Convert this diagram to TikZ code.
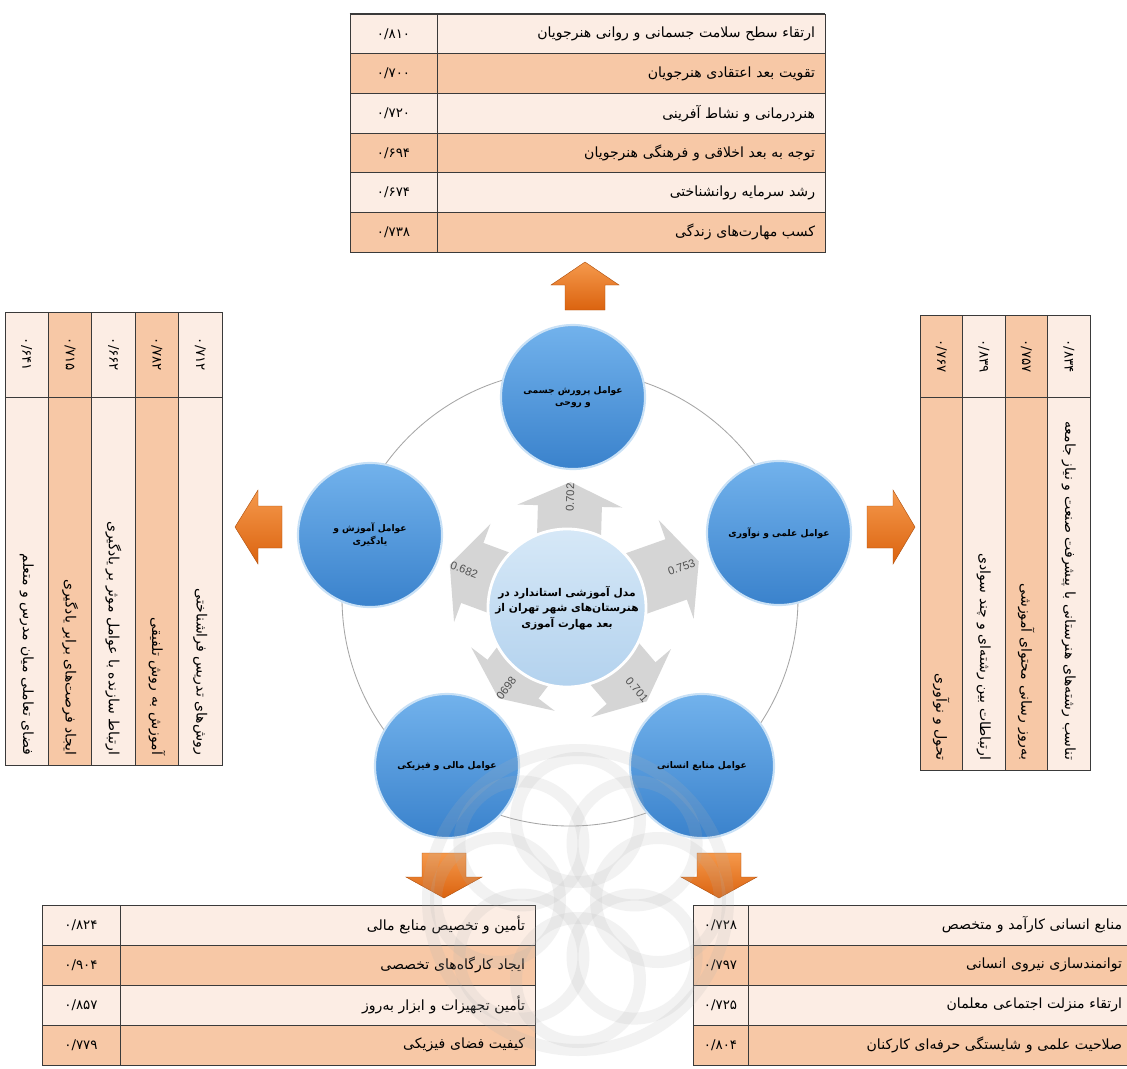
\documentclass[tikz,border=0pt]{standalone}
\usepackage{fontspec}
\setmainfont{Liberation Sans}
\newfontfamily\arabicfont[Script=Arabic]{DejaVu Sans}
\TeXXeTstate=1
\usetikzlibrary{arrows.meta,calc}
\definecolor{RowLight}{HTML}{FCEDE4}
\definecolor{RowPeach}{HTML}{F7C8A6}
\definecolor{TabLine}{HTML}{3A3A3A}
\definecolor{BallTop}{HTML}{72B2EC}
\definecolor{BallBot}{HTML}{3A82CC}
\definecolor{BallRim}{HTML}{C9E1F6}
\definecolor{CoreTop}{HTML}{D6E8F7}
\definecolor{CoreBot}{HTML}{B3D2EE}
\definecolor{RingGray}{HTML}{A6A6A6}
\definecolor{ArrowGray}{HTML}{D5D5D5}
\definecolor{OrangeL}{HTML}{F5994C}
\definecolor{OrangeD}{HTML}{DB630F}
\definecolor{LabelGray}{HTML}{505050}
\newcommand{\fa}[1]{{\arabicfont\beginR #1\endR}}
\tikzset{
  numcell/.style 2 args={draw=TabLine, line width=0.6pt, minimum width=#1, minimum height=#2,
    inner sep=0pt, font=\arabicfont\fontsize{9.5}{11}\selectfont},
  txtcell/.style 2 args={draw=TabLine, line width=0.6pt, text width=#1, minimum height=#2,
    align=right, inner xsep=0.25cm, inner ysep=0pt, font=\arabicfont\fontsize{10}{12}\selectfont},
  ball/.style={circle, minimum size=3.6cm, inner sep=0pt, align=center, top color=BallTop,
    bottom color=BallBot, draw=BallRim, line width=1.5pt,
    font=\arabicfont\bfseries\fontsize{6.5}{9}\selectfont},
  core/.style={circle, minimum size=3.95cm, inner sep=0pt, align=center, top color=CoreTop,
    bottom color=CoreBot, draw=white, line width=2pt,
    font=\arabicfont\bfseries\fontsize{7.6}{11}\selectfont},
  grayarrow/.style={draw=ArrowGray, line width=1.6cm, -{Triangle[width=2.6cm,length=0.6cm]},
    shorten >=0.3cm},
  weightlbl/.style={text=LabelGray, font=\fontsize{8}{9}\selectfont, inner sep=1pt},
  orangearrow/.style={top color=OrangeL, bottom color=OrangeD, draw=OrangeD!80!black, line width=0.3pt},
  watermark/.style={draw=gray!60, line width=0.3cm, opacity=0.16},
}

\begin{document}
\begin{tikzpicture}[x=0.025cm, y=-0.025cm]
  \fill[white] (0,0) rectangle (1127,1068);
  \useasboundingbox (0,0) rectangle (1127,1068);

  % Ring through the five factors
  \draw[RingGray, line width=0.6pt] (570,598) circle (228);

  % Factor circles
  \node[ball] (phys) at (573,397) {\fa{عوامل پرورش جسمی}\\\fa{و روحی}};
  \node[ball] (sci)  at (779,533) {\fa{عوامل علمی و نوآوری}};
  \node[ball] (hum)  at (702,766) {\fa{عوامل منابع انسانی}};
  \node[ball] (fin)  at (447,766) {\fa{عوامل مالی و فیزیکی}};
  \node[ball] (edu)  at (370,535) {\fa{عوامل آموزش و}\\\fa{یادگیری}};

  % Loadings from the model to each factor
  \coordinate (hub) at (567,608);
  \foreach \t in {phys, sci, hum, fin, edu}
    \draw[grayarrow] (hub) -- (\t);

  % Model
  \node[core] (model) at (hub) {\fa{مدل آموزشی استاندارد در}\\\fa{هنرستان‌های شهر تهران از}\\\fa{بعد مهارت آموزی}};

  \foreach \t/\v in {phys/0.702, sci/0.753, hum/0.701, fin/0698, edu/0.682}
    \path (hub) -- (\t) node[pos=0.8, sloped, weightlbl] (w-\t) {\v};

  % Orange arrows towards the tables
  \shade[orangearrow] (565,310) -- (565,285) -- (551,285) -- (585,262) -- (619,285) -- (605,285) -- (605,310) -- cycle;
  \shade[orangearrow] (867,506) -- (893,506) -- (893,490) -- (915,527) -- (893,564) -- (893,548) -- (867,548) -- cycle;
  \shade[orangearrow] (282,506) -- (258,506) -- (258,490) -- (235,527) -- (258,564) -- (258,548) -- (282,548) -- cycle;
  \shade[orangearrow] (422,853) -- (422,877) -- (406,877) -- (444,898) -- (482,877) -- (466,877) -- (466,853) -- cycle;
  \shade[orangearrow] (697,853) -- (697,877) -- (681,877) -- (719,898) -- (757,877) -- (741,877) -- (741,853) -- cycle;

  % Top table: physical and mental development
  \foreach \v/\t/\c [count=\i] in {
      {۰/۸۱۰}/{ارتقاء سطح سلامت جسمانی و روانی هنرجویان}/RowLight,
      {۰/۷۰۰}/{تقویت بعد اعتقادی هنرجویان}/RowPeach,
      {۰/۷۲۰}/{هنردرمانی و نشاط آفرینی}/RowLight,
      {۰/۶۹۴}/{توجه به بعد اخلاقی و فرهنگی هنرجویان}/RowPeach,
      {۰/۶۷۴}/{رشد سرمایه روانشناختی}/RowLight,
      {۰/۷۳۸}/{کسب مهارت‌های زندگی}/RowPeach}{
    \pgfmathsetmacro\yy{14+39.67*(\i-0.5)}
    \node[numcell={2.175cm}{0.99cm}, fill=\c] (phys-n\i) at (393.5,\yy) {\v};
    \node[txtcell={9.2cm}{0.99cm}, fill=\c] (phys-t\i) at (631,\yy) {\fa{\t}};
  }
  \draw[TabLine, line width=1.3pt] (phys-n1.north west) -- (phys-t1.north east);

  % Left table: teaching and learning
  \foreach \v/\t/\c [count=\i] in {
      {۰/۷۱۲}/{روش‌های تدریس فراشناختی}/RowLight,
      {۰/۷۸۲}/{آموزش به روش تلفیقی}/RowPeach,
      {۰/۶۶۲}/{ارتباط سازنده با عوامل موثر بر یادگیری}/RowLight,
      {۰/۷۱۵}/{ایجاد فرصت‌های برابر یادگیری}/RowPeach,
      {۰/۶۴۱}/{فضای تعاملی میان مدرس و متعلم}/RowLight}{
    \pgfmathsetmacro\xx{222-43.4*(\i-0.5)}
    \node[numcell={2.125cm}{1.085cm}, fill=\c, rotate=-90] (edu-n\i) at (\xx,354.5) {\v};
    \node[txtcell={8.7cm}{1.085cm}, fill=\c, rotate=-90] (edu-t\i) at (\xx,581) {\fa{\t}};
  }

  % Right table: science and innovation
  \foreach \v/\t/\c [count=\i] in {
      {۰/۸۳۴}/{تناسب رشته‌های هنرستانی با پیشرفت صنعت و نیاز جامعه}/RowLight,
      {۰/۷۵۷}/{به‌روز رسانی محتوای آموزشی}/RowPeach,
      {۰/۸۳۹}/{ارتباطات بین رشته‌ای و چند سوادی}/RowLight,
      {۰/۷۶۷}/{تحول و نوآوری}/RowPeach}{
    \pgfmathsetmacro\xx{1090-42.5*(\i-0.5)}
    \node[numcell={2.05cm}{1.0625cm}, fill=\c, rotate=-90] (sci-n\i) at (\xx,356) {\v};
    \node[txtcell={8.825cm}{1.0625cm}, fill=\c, rotate=-90] (sci-t\i) at (\xx,583.5) {\fa{\t}};
  }

  % Bottom left table: financial and physical
  \foreach \v/\t/\c [count=\i] in {
      {۰/۸۲۴}/{تأمین و تخصیص منابع مالی}/RowLight,
      {۰/۹۰۴}/{ایجاد کارگاه‌های تخصصی}/RowPeach,
      {۰/۸۵۷}/{تأمین تجهیزات و ابزار به‌روز}/RowLight,
      {۰/۷۷۹}/{کیفیت فضای فیزیکی}/RowPeach}{
    \pgfmathsetmacro\yy{905+40*(\i-0.5)}
    \node[numcell={1.95cm}{1cm}, fill=\c] (fin-n\i) at (81,\yy) {\v};
    \node[txtcell={9.875cm}{1cm}, fill=\c] (fin-t\i) at (327.5,\yy) {\fa{\t}};
  }

  % Bottom right table: human resources
  \foreach \v/\t/\c [count=\i] in {
      {۰/۷۲۸}/{منابع انسانی کارآمد و متخصص}/RowLight,
      {۰/۷۹۷}/{توانمندسازی نیروی انسانی}/RowPeach,
      {۰/۷۲۵}/{ارتقاء منزلت اجتماعی معلمان}/RowLight,
      {۰/۸۰۴}/{صلاحیت علمی و شایستگی حرفه‌ای کارکنان}/RowPeach}{
    \pgfmathsetmacro\yy{905+40*(\i-0.5)}
    \node[numcell={1.375cm}{1cm}, fill=\c] (hum-n\i) at (720.5,\yy) {\v};
    \node[txtcell={9.1cm}{1cm}, fill=\c] (hum-t\i) at (940,\yy) {\fa{\t}};
  }

  % Watermark ornament
  \foreach \a in {0,45,...,315}
    \draw[watermark] (578,900) ++(\a:80) circle (62);
  \draw[watermark] (578,900) circle (150);
\end{tikzpicture}
\end{document}
